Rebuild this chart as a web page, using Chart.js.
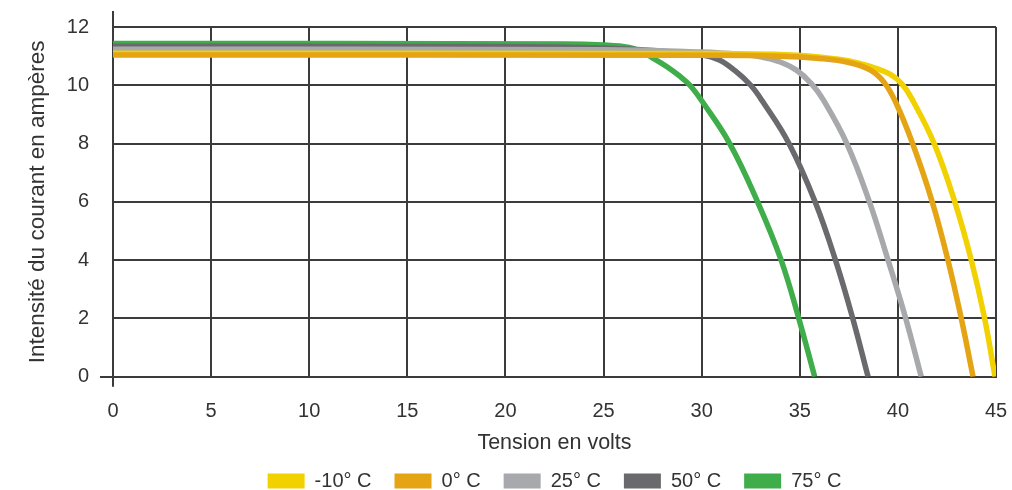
<!DOCTYPE html>
<html>
<head>
<meta charset="utf-8">
<script src="https://cdn.jsdelivr.net/npm/chart.js@4"></script>
<style>
  html, body { margin: 0; padding: 0; background: #ffffff; }
  #wrap { width: 1012px; height: 490px; position: relative; }
</style>
</head>
<body>
<div id="wrap"><canvas id="c"></canvas></div>
<script>
// ---- Data ----
const seriesLabels = ["-10° C", "0° C", "25° C", "50° C", "75° C"];
const seriesColors = ["#f2d100", "#e4a414", "#a8a9ac", "#6a6a6e", "#40ad4b"];

const voltsM10 = [0, 30, 34.6, 36.9, 38.0, 38.8, 39.6, 40.2, 40.7, 41.85, 42.9, 43.74, 44.42, 44.95];
const ampsM10  = [11.1, 11.09, 11.04, 10.9, 10.76, 10.6, 10.38, 10.05, 9.55, 8.0, 6.0, 4.0, 2.0, 0];

const volts0 = [0, 30, 34, 36, 37.5, 38.6, 39.3, 39.9, 40.75, 41.75, 42.55, 43.23, 43.83];
const amps0  = [11.04, 11.03, 11.0, 10.92, 10.78, 10.52, 10.1, 9.4, 8.0, 6.0, 4.0, 2.0, 0];

const volts25 = [0, 25, 30, 32, 33, 34, 34.83, 35.6, 36.2, 37.4, 38.55, 39.5, 40.4, 41.19];
const amps25  = [11.24, 11.22, 11.14, 11.06, 10.98, 10.8, 10.52, 10.05, 9.5, 8.0, 6.0, 4.0, 2.0, 0];

const volts50 = [0, 20, 25, 28, 30, 30.9, 31.7, 32.5, 33.1, 34.45, 35.78, 36.82, 37.7, 38.48];
const amps50  = [11.34, 11.33, 11.28, 11.17, 11.05, 10.87, 10.5, 10.0, 9.45, 8.0, 6.0, 4.0, 2.0, 0];

const volts75 = [0, 23, 25, 26.3, 26.9, 27.45, 28.25, 28.85, 29.4, 30.02, 31.43, 32.85, 34.05, 34.95, 35.76];
const amps75  = [11.43, 11.42, 11.38, 11.3, 11.16, 10.96, 10.63, 10.33, 10.0, 9.45, 8.0, 6.0, 4.0, 2.0, 0];

const xTicksStep = 5, xMin = 0, xMax = 45;
const yTicksStep = 2, yMin = 0, yMax = 12;

// ---- Build ----
const voltSets = [voltsM10, volts0, volts25, volts50, volts75];
const ampSets  = [ampsM10, amps0, amps25, amps50, amps75];
const drawOrder = [1, 0, 2, 3, 4]; // lower = on top (0° C line on top)

const gridColor = "#3b3b3b";
const textColor = "#333333";
const fontFamily = "'Liberation Sans', Arial, Helvetica, sans-serif";

const datasets = seriesLabels.map((lab, i) => ({
  label: lab,
  data: voltSets[i].map((v, k) => ({ x: v, y: ampSets[i][k] })),
  borderColor: seriesColors[i],
  backgroundColor: seriesColors[i],
  borderWidth: 5.5,
  pointRadius: 0,
  pointHoverRadius: 0,
  tension: 0.4,
  fill: false,
  order: drawOrder[i]
}));

const axisExtension = {
  id: "axisExtension",
  afterDraw(chart) {
    const xs = chart.scales.x, ys = chart.scales.y;
    const ctx = chart.ctx;
    const x0 = xs.getPixelForValue(xMin);
    const yTop = ys.getPixelForValue(yMax);
    ctx.save();
    ctx.strokeStyle = gridColor;
    ctx.lineWidth = 2;
    ctx.beginPath();
    ctx.moveTo(x0, yTop);
    ctx.lineTo(x0, yTop - 16);
    ctx.stroke();
    ctx.restore();
  }
};

new Chart(document.getElementById("c"), {
  type: "line",
  data: { datasets },
  plugins: [axisExtension],
  options: {
    responsive: true,
    maintainAspectRatio: false,
    animation: false,
    events: [],
    layout: { padding: { top: 27, right: 16, left: 0, bottom: -11 } },
    plugins: {
      tooltip: { enabled: false },
      legend: {
        position: "bottom",
        fullSize: false,
        labels: {
          boxWidth: 37,
          boxHeight: 15,
          padding: 23,
          color: textColor,
          font: { family: fontFamily, size: 20 },
          generateLabels(chart) {
            const items = Chart.defaults.plugins.legend.labels.generateLabels(chart);
            items.forEach(it => { it.lineWidth = 0; it.strokeStyle = "transparent"; });
            return items;
          },
          sort: (a, b) => a.datasetIndex - b.datasetIndex
        }
      }
    },
    scales: {
      x: {
        type: "linear",
        min: xMin, max: xMax,
        afterFit(s) { s.height = 71.3; s.paddingRight = 0; s.paddingLeft = 0; },
        ticks: {
          stepSize: xTicksStep,
          color: textColor,
          padding: 13,
          maxRotation: 0,
          font: { family: fontFamily, size: 20 }
        },
        grid: {
          color: gridColor,
          lineWidth: 2,
          tickLength: 10,
          tickWidth: 2,
          tickColor: (c) => (c.tick && c.tick.value === xMin ? gridColor : "transparent")
        },
        border: { display: true, color: gridColor, width: 2 },
        title: {
          display: true,
          text: "Tension en volts",
          color: textColor,
          font: { family: fontFamily, size: 21.5, lineHeight: 1 },
          padding: { top: 0, bottom: -5.75 }
        }
      },
      y: {
        type: "linear",
        min: yMin, max: yMax,
        afterFit(s) { s.width = 113; },
        ticks: {
          stepSize: yTicksStep,
          color: textColor,
          padding: 11,
          font: { family: fontFamily, size: 20 }
        },
        grid: {
          color: gridColor,
          lineWidth: 2,
          tickLength: 13,
          tickWidth: 2,
          tickColor: (c) => (c.tick && c.tick.value === yMin ? gridColor : "transparent")
        },
        border: { display: true, color: gridColor, width: 2 },
        title: {
          display: true,
          text: "Intensité du courant en ampères",
          color: textColor,
          font: { family: fontFamily, size: 22.5, lineHeight: 1 },
          padding: { top: 27, bottom: 0 }
        }
      }
    }
  }
});
</script>
</body>
</html>
